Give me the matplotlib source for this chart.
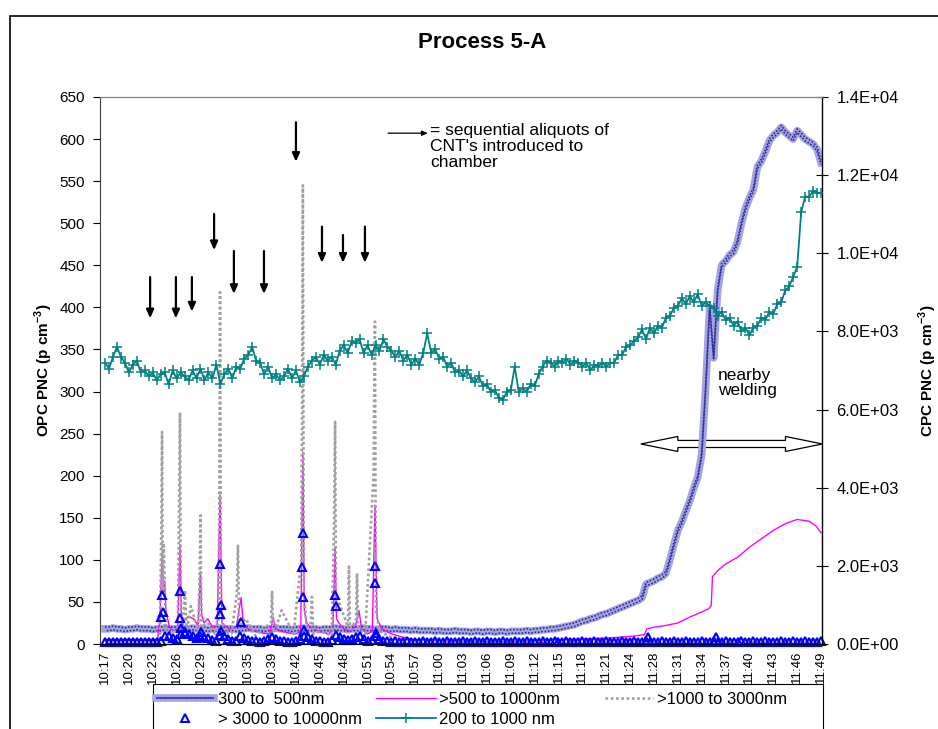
import numpy as np
import matplotlib
matplotlib.use("Agg")
import matplotlib.pyplot as plt
from matplotlib.patches import Polygon, Rectangle
from matplotlib.legend_handler import HandlerTuple
from matplotlib.ticker import FuncFormatter, MultipleLocator
from matplotlib.transforms import ScaledTranslation

plt.rcParams['font.family'] = ['Liberation Sans', 'DejaVu Sans']
plt.rcParams['mathtext.fontset'] = 'custom'
plt.rcParams['mathtext.rm'] = 'Liberation Sans'
plt.rcParams['mathtext.bf'] = 'Liberation Sans:bold'

# ---- category axis labels (one label every 6 samples) ----
time_labels = ["10:17", "10:20", "10:23", "10:26", "10:29", "10:32", "10:35", "10:39",
               "10:42", "10:45", "10:48", "10:51", "10:54", "10:57", "11:00", "11:03",
               "11:06", "11:09", "11:12", "11:15", "11:18", "11:21", "11:24", "11:28",
               "11:31", "11:34", "11:37", "11:40", "11:43", "11:46", "11:49"]
samples_per_label = 6
sample_pos = np.arange(181) / samples_per_label

# ---- OPC 300-500 nm (left axis) ----
opc_300_500 = [
    18, 18, 19, 18, 18, 17, 18, 18, 19, 18,
    18, 18, 17, 18, 18, 19, 18, 18, 18, 17,
    18, 18, 19, 18, 18, 18, 17, 18, 18, 19,
    18, 18, 18, 17, 18, 18, 19, 18, 18, 18,
    17, 18, 18, 19, 18, 18, 18, 17, 18, 18,
    19, 18, 18, 18, 17, 18, 18, 18, 19, 18,
    18, 17, 18, 18, 18, 19, 18, 18, 17, 18,
    18, 18, 17, 18, 17, 17, 17, 16, 17, 16,
    16, 16, 16, 15, 16, 15, 15, 15, 16, 15,
    15, 15, 14, 15, 15, 14, 15, 15, 14, 15,
    15, 14, 15, 15, 15, 15, 16, 15, 16, 16,
    17, 17, 18, 18, 19, 20, 21, 22, 23, 25,
    27, 28, 30, 31, 33, 35, 36, 38, 40, 42,
    44, 46, 48, 50, 52, 55, 71, 73, 75, 78,
    80, 84, 100, 118, 135, 145, 158, 170, 185, 198,
    225, 305, 400, 340, 420, 450, 455, 462, 466, 478,
    500, 518, 530, 540, 567, 574, 585, 598, 604, 608,
    614, 608, 604, 600, 610, 605, 600, 597, 594, 588,
    572]

# ---- CPC 200-1000 nm (right axis) ----
cpc_200_1000 = [
    7200, 7050, 7350, 7600, 7350, 7200, 6950, 7150, 7250, 6950,
    7000, 6850, 6950, 6750, 6900, 6950, 6650, 7000, 6800, 6950,
    6850, 6750, 7000, 6800, 7050, 6750, 6950, 6800, 7150, 6650,
    6900, 7050, 6800, 7100, 7050, 7300, 7400, 7600, 7250, 7200,
    6900, 7100, 6800, 6900, 6750, 6850, 7050, 6800, 7000, 6700,
    6850, 7100, 7250, 7350, 7150, 7400, 7250, 7350, 7150, 7500,
    7650, 7450, 7750, 7700, 7800, 7450, 7650, 7400, 7650, 7500,
    7800, 7600, 7500, 7350, 7500, 7250, 7400, 7150, 7300, 7150,
    7450, 7950, 7450, 7550, 7300, 7350, 7100, 7200, 6950, 7000,
    6850, 7000, 6800, 6700, 6850, 6600, 6650, 6450, 6500, 6300,
    6250, 6450, 6500, 7100, 6450, 6550, 6450, 6650, 6600, 6900,
    7100, 7250, 7200, 7100, 7250, 7200, 7300, 7150, 7250, 7200,
    7100, 7200, 7000, 7150, 7100, 7200, 7100, 7200, 7200, 7400,
    7400, 7600, 7650, 7750, 7850, 8050, 7800, 8100, 7950, 8150,
    8100, 8350, 8400, 8600, 8650, 8850, 8700, 8900, 8750, 8950,
    8650, 8750, 8650, 8600, 8400, 8500, 8300, 8350, 8150, 8250,
    8000, 8100, 7900, 8100, 8150, 8350, 8300, 8500, 8450, 8700,
    8750, 9050, 9150, 9400, 9650, 11050, 11450, 11450, 11600, 11550,
    11550]

# ---- OPC >3000-10000 nm (left axis): regular samples plus spike readings ----
opc_3000_10000 = (
    [2] * 14 +
    [4, 10, 9, 7, 6,
     12, 14, 12, 9, 7,
     10, 8, 7, 5, 4,
     11, 9, 6, 4, 4,
     9, 7, 5, 3, 3,
     2, 3, 6,
     8, 6, 4, 3, 2, 2,
     3, 6,
     10, 8, 6, 4, 3, 2,
     2, 5,
     11, 8, 6, 5, 6,
     8, 9, 6, 4, 5,
     10, 6, 4, 3] +
    [2, 3, 2, 2, 3, 2, 2, 2, 3, 2] * 10 +
    [2, 3, 2, 2, 3, 2, 2, 2, 3])
spike_pos_3000 = [2.39, 2.43, 2.35, 3.14, 3.14, 3.18, 4.02, 4.82, 4.86, 4.82, 4.86,
                  5.70, 8.29, 8.25, 8.29, 8.33, 9.64, 9.68, 11.31, 11.31, 11.35,
                  22.75, 25.60]
spike_val_3000 = [58, 38, 32, 63, 31, 19, 14, 95, 46, 36, 15,
                  26, 132, 91, 56, 17, 58, 45, 93, 73, 13,
                  8, 8]

# ---- OPC >500-1000 nm (left axis) ----
pos_500_1000 = [0.0, 2.2, 2.3, 2.39, 2.45, 2.5, 2.55, 2.7, 2.9, 3.05,
                3.14, 3.2, 3.3, 3.5, 3.7, 3.9, 4.0, 4.05, 4.15, 4.3,
                4.5, 4.7, 4.82, 4.9, 5.0, 5.2, 5.5, 5.7, 5.8, 6.0,
                6.3, 6.6, 6.9, 7.04, 7.15, 7.4, 7.7, 8.0, 8.2, 8.29,
                8.35, 8.45, 8.6, 8.8, 9.1, 9.4, 9.55, 9.64, 9.7, 9.8,
                10.0, 10.3, 10.5, 10.64, 10.75, 11.0, 11.2, 11.31, 11.4, 11.6,
                12.0, 12.5, 13.0, 14.0, 15.0, 16.0, 17.0, 18.0, 19.0, 20.0,
                21.0, 22.0, 22.6, 22.7, 23.0, 23.5, 24.0, 24.5, 25.0, 25.3,
                25.4, 25.45, 25.7, 26.0, 26.5, 27.0, 27.5, 28.0, 28.5, 29.0,
                29.5, 29.8, 30.0]
opc_500_1000 = [5, 5, 30, 108, 60, 75, 40, 20, 15, 20,
                118, 30, 28, 33, 30, 22, 86, 35, 25, 30,
                20, 22, 177, 25, 22, 18, 20, 55, 22, 18,
                15, 13, 12, 32, 18, 15, 13, 12, 15, 228,
                40, 25, 20, 17, 14, 12, 20, 115, 30, 25,
                18, 15, 22, 40, 18, 12, 15, 165, 30, 18,
                12, 8, 5, 4, 3, 3, 3, 4, 5, 6,
                7, 9, 11, 18, 20, 22, 25, 32, 38, 42,
                46, 80, 88, 95, 103, 115, 125, 135, 143, 148,
                146, 140, 132]

# ---- OPC >1000-3000 nm (left axis) ----
pos_1000_3000 = [0.0, 1.0, 2.0, 2.3, 2.36, 2.39, 2.42, 2.46, 2.55, 2.8,
                 3.05, 3.11, 3.14, 3.18, 3.25, 3.35, 3.42, 3.6, 3.9, 3.97,
                 4.0, 4.04, 4.3, 4.6, 4.76, 4.8, 4.82, 4.86, 5.0, 5.3,
                 5.52, 5.57, 5.62, 5.9, 6.3, 6.95, 7.0, 7.05, 7.4, 7.9,
                 8.22, 8.26, 8.29, 8.33, 8.45, 8.62, 8.67, 8.72, 9.0, 9.5,
                 9.6, 9.64, 9.68, 9.8, 10.18, 10.22, 10.27, 10.52, 10.56, 10.6,
                 10.9, 11.25, 11.28, 11.31, 11.35, 11.5, 12.0, 13.0, 15.0, 18.0,
                 21.0, 22.6, 22.7, 22.8, 24.0, 27.0, 30.0]
opc_1000_3000 = [4, 5, 4, 8, 140, 252, 60, 120, 15, 12,
                 20, 180, 275, 40, 20, 64, 15, 45, 15, 90,
                 153, 20, 25, 12, 30, 250, 418, 40, 15, 12,
                 60, 118, 20, 30, 10, 25, 62, 10, 40, 12,
                 100, 300, 545, 60, 20, 25, 56, 12, 15, 10,
                 150, 264, 40, 50, 20, 92, 15, 30, 84, 20,
                 12, 200, 300, 383, 40, 15, 8, 4, 3, 2,
                 2, 3, 12, 3, 2, 2, 2]

# ---- CNT aliquot markers (left-axis units) ----
aliquot_pos = [1.89, 2.97, 3.64, 4.57, 5.40, 6.66, 8.00, 9.09, 9.97, 10.89]
aliquot_from = [436, 436, 436, 511, 467, 467, 620, 496, 486, 496]
aliquot_to = [387, 387, 395, 468, 416, 416, 573, 453, 453, 453]

# ---- figure ----
W, H = 938, 729
fig = plt.figure(figsize=(W / 100, H / 100), dpi=100)
fig.patches.append(Rectangle((10 / W, -0.05), 1.2, 1.05 - 16 / H, transform=fig.transFigure,
                             fill=False, edgecolor='black', lw=1.2))

ax = fig.add_axes([100 / W, 1 - 644 / H, 722 / W, 547 / H])
ax2 = ax.twinx()

# 300-500 nm drawn as a textured band: light body with two offset rows of navy dots
shift_up = ax.transData + ScaledTranslation(0, 1.3 / 72, fig.dpi_scale_trans)
shift_dn = ax.transData + ScaledTranslation(0, -1.3 / 72, fig.dpi_scale_trans)
h_band, = ax.plot(sample_pos, opc_300_500, color='#a4a4e2', lw=5.5, zorder=3)
h_dot1, = ax.plot(sample_pos, opc_300_500, color='#2c2c96', lw=1.2, ls=(0, (1, 1)),
                  transform=shift_up, zorder=3.1)
h_dot2, = ax.plot(sample_pos, opc_300_500, color='#2c2c96', lw=1.2, ls=(1, (1, 1)),
                  transform=shift_dn, zorder=3.1)

tri_style = dict(ls='none', marker='^', ms=6, mfc='none', mec='#0000ff', mew=1.5,
                 clip_on=False)

h_mag, = ax.plot(pos_500_1000, opc_500_1000, color='#ff00ff', lw=1.0, zorder=4)
h_gray, = ax.plot(pos_1000_3000, opc_1000_3000, color='#a0a0a0', lw=1.9,
                  ls=(0, (1, 1)), zorder=4)
h_tri, = ax.plot(sample_pos, opc_3000_10000, zorder=5, **tri_style)
ax.plot(spike_pos_3000, spike_val_3000, zorder=5, **tri_style)
h_cpc, = ax2.plot(sample_pos, cpc_200_1000, color='#008080', lw=1.3, marker='+',
                  ms=6.5, mew=1.1, zorder=3)

ax.set_xlim(-0.21, 30.04)
ax.set_ylim(0, 650)
ax2.set_ylim(0, 14000)

ax.set_xticks(range(len(time_labels)))
ax.set_xticklabels(time_labels, rotation=90, fontsize=9.5)
ax.yaxis.set_major_locator(MultipleLocator(50))
ax2.yaxis.set_major_locator(MultipleLocator(2000))
ax2.yaxis.set_major_formatter(FuncFormatter(lambda v, p: f"{v:.1E}"))

ax.tick_params(axis='x', length=0, pad=5)
ax.tick_params(axis='y', direction='out', length=5, width=0.8, labelsize=11, pad=6)
ax2.tick_params(axis='y', direction='inout', length=9, width=0.8, labelsize=12, pad=6)

for a in (ax, ax2):
    a.spines['top'].set_color('#808080')
    a.spines['top'].set_linewidth(0.8)
    a.spines['bottom'].set_linewidth(0.8)
ax.spines['left'].set_color('#404040')
ax2.spines['left'].set_visible(False)
ax.spines['right'].set_visible(False)
ax2.spines['right'].set_linewidth(1.0)

ax.set_ylabel('OPC PNC (p cm$^{\\mathbf{-3}}$)', fontsize=11, fontweight='bold')
ax.yaxis.set_label_coords(-0.062, 0.5)
ax2.set_ylabel('CPC PNC (p cm$^{\\mathbf{-3}}$)', fontsize=11, fontweight='bold')
ax2.yaxis.set_label_coords(1.1316, 0.5)

fig.text(482 / W, 1 - 42 / H, 'Process 5-A', ha='center', va='center',
         fontsize=16, fontweight='bold')

# aliquot arrows
for u, y0, y1 in zip(aliquot_pos, aliquot_from, aliquot_to):
    ax.annotate('', xy=(u, y1), xytext=(u, y0),
                arrowprops=dict(arrowstyle='-|>,head_length=0.5,head_width=0.22',
                                color='black', lw=1.6, shrinkA=0, shrinkB=0))
ax.annotate('', xy=(13.53, 607), xytext=(11.86, 607),
            arrowprops=dict(arrowstyle='-|>,head_length=0.35,head_width=0.15',
                            color='black', lw=0.9, shrinkA=0, shrinkB=0))
ax.text(13.62, 619, "= sequential aliquots of\nCNT's introduced to\nchamber",
        ha='left', va='top', fontsize=12.5, linespacing=1.08)
ax.text(25.68, 328, "nearby\nwelding", ha='left', va='top', fontsize=12.5, linespacing=1.0)

# welding period: hollow double-headed arrow
xl, xr, yc = 22.45, 30.06, 237.7
hl, hw, sw = 1.55, 8.9, 4.2
ax.add_patch(Polygon([(xl, yc), (xl + hl, yc + hw), (xl + hl, yc + sw), (xr - hl, yc + sw),
                      (xr - hl, yc + hw), (xr, yc), (xr - hl, yc - hw), (xr - hl, yc - sw),
                      (xl + hl, yc - sw), (xl + hl, yc - hw)], closed=True,
                     facecolor='white', edgecolor='black', lw=0.9, zorder=2, clip_on=False))

# legend: three columns placed at fixed positions inside one frame
fig.patches.append(Rectangle((153 / W, 1 - 760 / H), 670 / W, 76 / H,
                             transform=fig.transFigure, fill=False,
                             edgecolor='black', lw=0.8))
leg_kw = dict(loc='upper left', frameon=False, fontsize=12, numpoints=1, borderpad=0,
              borderaxespad=0, labelspacing=0.3, handletextpad=0.2)
leg_top = 1 - 692 / H
fig.legend([(h_band, h_dot1, h_dot2), h_tri], ['300 to  500nm', '> 3000 to 10000nm'],
           bbox_to_anchor=(156 / W, leg_top), handlelength=3.5,
           handler_map={tuple: HandlerTuple(ndivide=1, pad=0)}, **leg_kw)
fig.legend([h_mag, h_cpc], ['>500 to 1000nm', '200 to 1000 nm'],
           bbox_to_anchor=(376 / W, leg_top), handlelength=3.6, **leg_kw)
fig.legend([h_gray], ['>1000 to 3000nm'],
           bbox_to_anchor=(605 / W, leg_top), handlelength=2.9, **leg_kw)

fig.savefig('out.png', dpi=100)
